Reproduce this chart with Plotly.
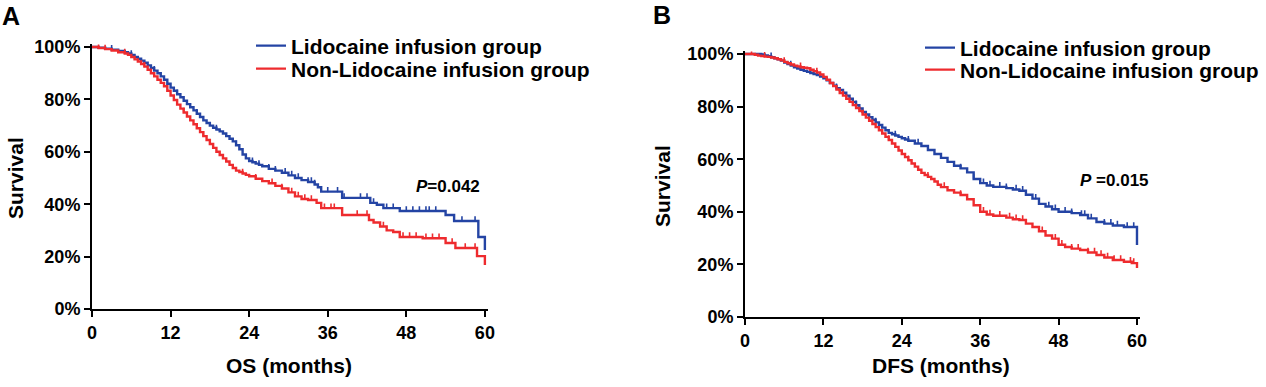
import plotly.graph_objects as go

# ---------------- Data ----------------
# Panel A: OS
os_lido_t = [0, 1, 2, 3, 4, 5, 5.5, 6, 6.5, 7, 7.5, 8, 8.5, 9, 9.5, 10, 10.5, 11, 11.5, 12,
             12.5, 13, 13.5, 14, 14.5, 15, 15.5, 16, 16.5, 17, 17.5, 18, 18.5, 19, 19.5, 20,
             20.5, 21, 21.5, 22, 22.5, 23, 23.5, 24, 24.5, 25, 25.5, 26, 27, 28, 29, 30, 31,
             32, 33, 34, 34.5, 35, 38.2, 42.5, 43.5, 44.5, 47, 54, 55.3, 59, 60]
os_lido_s = [100, 99.7, 99.4, 99, 98.5, 98, 97.5, 97, 96.2, 95.5, 94.8, 94, 93, 92, 91, 90,
             88.8, 87.5, 86, 84.5, 83.3, 82, 80.8, 79.5, 78.2, 77, 75.8, 74.5, 73.3, 72, 71,
             70, 69.2, 68.5, 67.8, 67, 66, 65, 64, 62.5, 61, 59, 57.5, 56.5, 56, 55.5, 55,
             54.5, 53.5, 52.8, 52, 51, 50, 49.2, 48.5, 47.5, 46.5, 44.8, 42.4, 40.5, 39.8,
             38.5, 37.4, 35.9, 33.6, 27.5, 22.5]
os_non_t = [0, 1, 2, 3, 4, 5, 5.5, 6, 6.5, 7, 7.5, 8, 8.5, 9, 9.5, 10, 10.5, 11, 11.5, 12,
            12.5, 13, 13.5, 14, 14.5, 15, 15.5, 16, 16.5, 17, 17.5, 18, 18.5, 19, 19.5, 20,
            20.5, 21, 21.5, 22, 22.5, 23, 23.5, 24, 25, 26, 27, 28, 29, 30, 31, 32, 33, 34.3,
            35, 38.2, 42.3, 43, 44, 45, 46, 47, 50.5, 54, 55.5, 58.8, 60]
os_non_s = [100, 99.6, 99.2, 98.7, 98, 97.5, 97, 96.2, 95.3, 94.5, 93.5, 92.5, 91.3, 90,
            88.8, 87.5, 86.3, 85, 83.3, 81.5, 79.8, 78, 76.5, 75, 73.5, 72, 70.5, 69, 67.5,
            66, 64.5, 63, 61.5, 60, 58.8, 57.5, 56.3, 55, 53.8, 52.8, 52.3, 51.7, 51.2,
            50.7, 49.7, 48.8, 48, 47, 46, 44.5, 43, 42, 41.6, 40.5, 38.5, 35.9, 34, 33,
            31.5, 30, 29.4, 27.5, 27, 25.2, 23.3, 20.2, 16.8]
os_lido_cens = [3, 6, 9.5, 13, 16, 19, 22, 24.5, 25.5, 27, 28, 29.5, 30.5, 31.5, 33, 33.5,
                34, 36, 37.5, 38.5, 41, 42, 43, 45, 46, 48, 49, 50, 51, 51.5, 52.5, 56.5, 58.5]
os_non_cens = [1, 2, 5, 8, 14, 17, 23, 25, 27.5, 29, 30.5, 31.5, 32.5, 33.5, 35.5, 36.5, 37,
               40.5, 42, 44.5, 47.5, 48.5, 49.5, 51, 52, 53, 55, 57, 58.5]

# Panel B: DFS
dfs_lido_t = [0, 2.5, 3, 3.5, 4, 4.5, 5, 5.5, 6, 6.5, 7, 7.5, 8, 8.5, 9, 9.5, 10, 10.5, 11,
              11.5, 12, 12.5, 13, 13.5, 14, 14.5, 15, 15.5, 16, 16.5, 17, 17.5, 18, 18.5, 19,
              19.5, 20, 20.5, 21, 21.5, 22, 22.5, 23, 23.5, 24, 24.5, 25, 26, 27, 28, 29, 30,
              31, 32, 33, 34, 35, 36, 37, 38, 40, 41, 42, 43, 44, 45, 46, 47, 48, 50, 51.3,
              52.5, 53.8, 55, 56.3, 58, 60]
dfs_lido_s = [100, 99.8, 99.5, 99.2, 98.8, 98.4, 98, 97.5, 96.8, 96.2, 95.6, 95, 94.5, 94,
              93.6, 93.2, 92.8, 92.4, 92, 91.4, 90.8, 90, 89, 88, 87, 86.3, 85.3, 84.2, 83,
              81.8, 80.5, 79.3, 78, 77, 76, 75, 74, 73, 72, 71, 70, 69.5, 69, 68.5, 68, 67.5,
              67, 66, 65, 63.5, 62, 60.5, 59, 57.5, 56.5, 55, 52.5, 50.9, 50, 49.5, 49, 48.5,
              48, 46.5, 45, 43, 42, 41, 40, 39.5, 38.8, 37.5, 36.1, 35.5, 34.8, 34.2, 27.4]
dfs_non_t = [0, 1.5, 2, 2.5, 3, 3.5, 4, 4.5, 5, 5.5, 6, 6.5, 7, 7.5, 8, 8.5, 9, 9.5, 10,
             10.5, 11, 11.5, 12, 12.5, 13, 13.5, 14, 14.5, 15, 15.5, 16, 16.5, 17, 17.5, 18,
             18.5, 19, 19.5, 20, 20.5, 21, 21.5, 22, 22.5, 23, 23.5, 24, 24.5, 25, 25.5, 26,
             26.5, 27, 27.5, 28, 28.5, 29, 29.5, 30, 31, 32, 33, 34, 35, 36, 37, 38, 40, 41,
             42, 43, 44, 45, 46, 47, 48, 49, 50, 51.3, 52.5, 53.8, 55, 56.3, 58, 59.2, 60]
dfs_non_s = [100, 99.7, 99.4, 99.2, 99, 98.9, 98.7, 98.4, 98, 97.6, 97, 96.5, 96, 95.6, 95.3,
             95, 94.8, 94.6, 94, 93.5, 93, 92.2, 91.3, 90.2, 89, 87.8, 86.5, 85.2, 84.2, 83,
             81.8, 80.6, 79.5, 78.3, 77, 75.8, 74.6, 73.4, 72.2, 71, 69.8, 68.5, 67.3, 66,
             64.7, 63.3, 62, 60.8, 59.6, 58.4, 57.2, 56, 54.8, 54, 53.3, 52.5, 51.5, 50.3,
             49.4, 48.2, 47.3, 46.4, 44.8, 42.5, 40, 39, 38.5, 37.8, 37.2, 36.9, 35.5, 34.2,
             32.6, 31, 29.8, 27.5, 26.6, 26, 25.5, 24.5, 23.6, 22.6, 21.7, 21, 20.5, 18.6]
dfs_lido_cens = [4, 7, 10, 14, 17, 20, 23, 25, 26.5, 28, 30, 32, 33, 35, 36.5, 37.5, 39, 40,
                 41.5, 42.5, 44.5, 46.5, 47.5, 49, 50, 51.5, 52, 53, 55, 56, 57, 58.5, 59.5]
dfs_non_cens = [1, 3, 6, 8.5, 11, 15, 18, 22, 25, 28, 30.5, 33, 36.5, 37.5, 39, 40.5, 41.5,
                42.5, 45.5, 47.5, 48.5, 50, 51, 52.5, 53.5, 54.5, 55.5, 56.5, 57.5, 59, 59.5]

group_names = ["Lidocaine infusion group", "Non-Lidocaine infusion group"]
x_titles = ["OS (months)", "DFS (months)"]
p_texts = ["<i>P</i>=0.042", "<i>P</i> =0.015"]
x_ticks = [0, 12, 24, 36, 48, 60]
y_ticks = [0, 20, 40, 60, 80, 100]
y_ticktext = [f"{v}%" for v in y_ticks]

BLUE = "#2444A4"
RED = "#EE2B2E"
FONT = "Liberation Sans, Arial, sans-serif"

W, H = 1266, 387


def px_x(px):
    return px / W


def px_y(py):
    return (H - py) / H


def step_value(times, surv, t):
    val = surv[0]
    for tt, ss in zip(times, surv):
        if tt <= t:
            val = ss
        else:
            break
    return val


fig = go.Figure()

panels = [
    dict(xa="x", ya="y", legends=["legend", "legend2"],
         series=[(os_lido_t, os_lido_s, os_lido_cens, BLUE),
                 (os_non_t, os_non_s, os_non_cens, RED)]),
    dict(xa="x2", ya="y2", legends=["legend3", "legend4"],
         series=[(dfs_lido_t, dfs_lido_s, dfs_lido_cens, BLUE),
                 (dfs_non_t, dfs_non_s, dfs_non_cens, RED)]),
]

for p in panels:
    for name, lg, (tt, ss, cens, col) in zip(group_names, p["legends"], p["series"]):
        fig.add_trace(go.Scatter(
            x=tt, y=ss, mode="lines", line=dict(color=col, width=2.4, shape="hv"),
            name=name, xaxis=p["xa"], yaxis=p["ya"], legend=lg, hoverinfo="skip"))
        cy = [step_value(tt, ss, c) for c in cens]
        fig.add_trace(go.Scatter(
            x=cens, y=cy, mode="markers", marker=dict(size=1, color=col),
            error_y=dict(type="data", symmetric=False, array=[1.8] * len(cens),
                         arrayminus=[0] * len(cens), color=col, thickness=1.6, width=0),
            showlegend=False, xaxis=p["xa"], yaxis=p["ya"], hoverinfo="skip"))

axis_common = dict(showgrid=False, zeroline=False, showline=True, linecolor="black",
                   linewidth=2, ticks="outside", ticklen=6, tickwidth=2, tickcolor="black",
                   automargin=False,
                   tickfont=dict(family=FONT, size=18, color="black", weight="bold"))

# Panel A geometry: x 0->92px, 60->485px ; y 0%->309px, 100%->47px
# Panel B geometry: x 0->745px, 60->1137px ; y 0%->317px, 100%->54px
fig.update_layout(
    xaxis=dict(domain=[px_x(92), px_x(487.5)], range=[0, 60.4], tickvals=x_ticks,
               **axis_common),
    yaxis=dict(domain=[px_y(309), px_y(44.4)], range=[0, 101], tickvals=y_ticks,
               ticktext=y_ticktext, anchor="x", **axis_common),
    xaxis2=dict(domain=[px_x(745), px_x(1139.6)], range=[0, 60.4], tickvals=x_ticks,
                anchor="y2", **axis_common),
    yaxis2=dict(domain=[px_y(317), px_y(51.4)], range=[0, 101], tickvals=y_ticks,
                ticktext=y_ticktext, anchor="x2", **axis_common),
)

legend_common = dict(font=dict(family=FONT, size=21, color="black", weight="bold"),
                     bgcolor="rgba(0,0,0,0)", xanchor="left", yanchor="middle",
                     itemwidth=30)
fig.update_layout(
    legend=dict(x=px_x(251), y=px_y(46), **legend_common),
    legend2=dict(x=px_x(251), y=px_y(69), **legend_common),
    legend3=dict(x=px_x(920), y=px_y(48), **legend_common),
    legend4=dict(x=px_x(920), y=px_y(70), **legend_common),
)

ann = []


def add_text(text, xc, yc, size, angle=0):
    ann.append(dict(text=text, x=px_x(xc), y=px_y(yc), xref="paper", yref="paper",
                    xanchor="center", yanchor="middle", textangle=angle, showarrow=False,
                    font=dict(family=FONT, size=size, color="black", weight="bold")))


add_text("A", 11, 16, 25)
add_text("B", 662, 15, 25)
add_text("Survival", 15, 178, 21, -90)
add_text("Survival", 662, 186, 21, -90)
add_text(x_titles[0], 288.5, 365, 21)
add_text(x_titles[1], 941, 365, 21)
add_text(p_texts[0], 448, 186, 17)
add_text(p_texts[1], 1114, 180, 17)

fig.update_layout(
    annotations=ann, width=W, height=H,
    margin=dict(l=0, r=0, t=0, b=0, autoexpand=False),
    plot_bgcolor="white", paper_bgcolor="white", showlegend=True,
)

# remove the page's default 8px body margin so the figure sits at the window origin
fig.write_html("out.html", config={"displayModeBar": False},
               post_script="document.body.style.margin='0px';")
